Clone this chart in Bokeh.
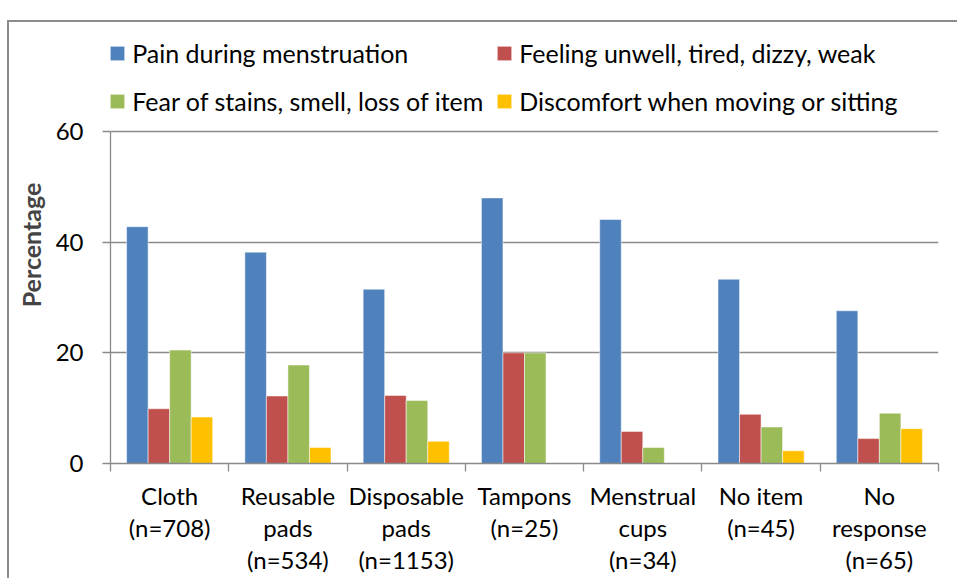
from bokeh.plotting import figure
from bokeh.models import (Legend, LegendItem, FixedTicker, Range1d, ColumnDataSource)
from bokeh.transform import dodge
from bokeh.embed import file_html
from bokeh.resources import INLINE

# ---- data ----
categories = ["Cloth\n(n=708)", "Reusable\npads\n(n=534)", "Disposable\npads\n(n=1153)",
              "Tampons\n(n=25)", "Menstrual\ncups\n(n=34)", "No item\n(n=45)",
              "No\nresponse\n(n=65)"]
series_labels = ["Pain during menstruation", "Feeling unwell, tired, dizzy, weak",
                 "Fear of stains, smell, loss of item", "Discomfort when moving or sitting"]
pain = [42.8, 38.2, 31.5, 48.0, 44.1, 33.3, 27.6]
unwell = [9.9, 12.2, 12.3, 20.0, 5.8, 8.9, 4.5]
fear = [20.5, 17.8, 11.4, 20.0, 2.9, 6.6, 9.1]
discomfort = [8.4, 2.9, 4.0, 0.0, 0.0, 2.3, 6.3]
y_ticks = [0, 20, 40, 60]

colors = ["#4F81BD", "#C0504D", "#9BBB59", "#FFC000"]
FONT = "Lato"
GRAY = "#8a8a8a"

n = len(categories)
centers = [i + 0.5 for i in range(n)]
bounds = list(range(n + 1))

src = ColumnDataSource(dict(x=centers, pain=pain, unwell=unwell, fear=fear, discomfort=discomfort))

# frame extends above the 60 line to host the legend (axis itself bounded to 0..60)
FRAME_H = 437
Y_TOP = 60 * FRAME_H / 332.0

p = figure(frame_width=828, frame_height=FRAME_H, output_backend="svg", toolbar_location=None,
           x_range=Range1d(0, n), y_range=Range1d(0, Y_TOP),
           min_border_left=101, min_border_right=19, min_border_top=4, min_border_bottom=115)
p.styles = {"margin-left": "7px", "margin-top": "20px",
            "border-top": "2px solid #8c8c8c", "border-left": "2px solid #8c8c8c"}
p.outline_line_color = None
p.background_fill_color = "white"
p.border_fill_color = "white"

bw = 0.182
offsets = [-1.5 * bw, -0.5 * bw, 0.5 * bw, 1.5 * bw]
fields = ["pain", "unwell", "fear", "discomfort"]
renderers = []
for f, off, c in zip(fields, offsets, colors):
    r = p.vbar(x=dodge("x", off, range=p.x_range), top=f, width=bw, source=src,
               fill_color=c, line_color="white", line_alpha=0.5, line_width=1)
    renderers.append(r)

# axes
yax = p.yaxis[0]
yax.bounds = (0, 60)
yax.ticker = FixedTicker(ticks=y_ticks)
yax.axis_label = "Percentage"
yax.axis_label_text_font = FONT
yax.axis_label_text_font_style = "bold"
yax.axis_label_text_font_size = "25px"
yax.axis_label_standoff = 7
yax.major_label_text_font = FONT
yax.major_label_text_font_size = "24px"
yax.major_label_text_color = "black"
yax.major_label_standoff = 19
yax.major_tick_in = 0
yax.major_tick_out = 8
yax.minor_tick_line_color = None
yax.axis_line_color = GRAY
yax.major_tick_line_color = GRAY
yax.axis_line_width = 1.3
yax.major_tick_line_width = 1.3

xax = p.xaxis[0]
xax.ticker = FixedTicker(ticks=centers, minor_ticks=bounds)
xax.major_label_overrides = {c: lab for c, lab in zip(centers, categories)}
xax.major_label_text_font = FONT
xax.major_label_text_font_size = "24px"
xax.major_label_text_color = "black"
xax.major_label_text_line_height = 1.12
xax.major_label_standoff = 9
xax.major_tick_line_color = None
xax.major_tick_in = 0
xax.major_tick_out = 0
xax.minor_tick_in = 0
xax.minor_tick_out = 8
xax.minor_tick_line_color = GRAY
xax.minor_tick_line_width = 1.3
xax.axis_line_color = GRAY
xax.axis_line_width = 1.3

p.xgrid.grid_line_color = None
p.ygrid.ticker = FixedTicker(ticks=y_ticks)
p.ygrid.grid_line_color = GRAY
p.ygrid.grid_line_width = 1.3

legend = Legend(items=[LegendItem(label=l, renderers=[r]) for l, r in zip(series_labels, renderers)],
                orientation="horizontal", ncols=2, location=(-1.8, 339),
                padding=0, margin=0, spacing=2, glyph_width=18, glyph_height=18,
                label_standoff=6, label_width=361, label_height=46,
                label_text_font=FONT, label_text_font_size="25px", label_text_color="black",
                border_line_color=None, background_fill_alpha=0)
p.add_layout(legend, "center")

open("out.html", "w").write(file_html(p, INLINE))
